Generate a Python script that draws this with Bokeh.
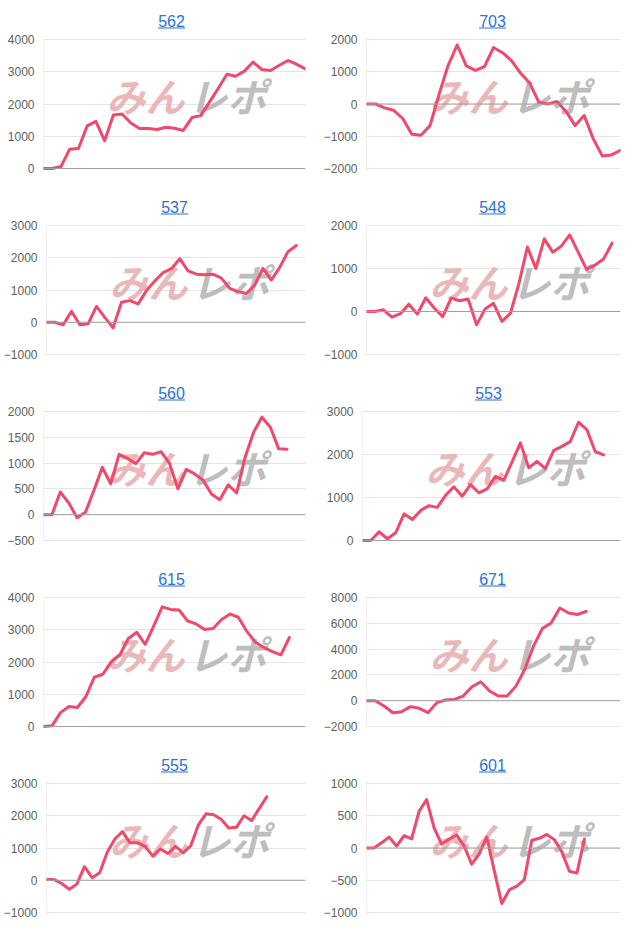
from bokeh.plotting import figure
from bokeh.layouts import column, row
from bokeh.models import Range1d, FixedTicker, Span, Label, BoxAnnotation
from bokeh.embed import file_html
from bokeh.resources import INLINE

titles = ["562", "703", "537", "548", "560", "553", "615", "671", "555", "601"]

v562 = [0, 0, 60, 600, 620, 1320, 1460, 860, 1660, 1690, 1410, 1240, 1240, 1210, 1280, 1250,
        1180, 1580, 1640, 2060, 2480, 2920, 2860, 3020, 3300, 3070, 3040, 3200, 3350, 3230, 3090]
v703 = [0, 0, -120, -195, -450, -940, -970, -670, 300, 1200, 1830, 1180, 1040, 1160, 1750,
        1590, 1340, 950, 650, 50, 0, 80, -230, -670, -360, -1080, -1610, -1580, -1440]
v537 = [0, 0, -80, 340, -80, -50, 490, 150, -170, 620, 670, 570, 980, 1280, 1540, 1660, 1970,
        1590, 1490, 1470, 1490, 1370, 1050, 950, 890, 1150, 1670, 1310, 1700, 2190, 2380]
v548 = [0, 0, 40, -130, -50, 170, -60, 320, 80, -120, 310, 250, 290, -310, 60, 190, -230, -40,
        650, 1500, 1000, 1690, 1380, 1520, 1780, 1380, 980, 1080, 1220, 1590]
v560 = [0, 0, 440, 230, -60, 50, 470, 920, 600, 1170, 1090, 990, 1200, 1170, 1220, 1000, 500,
        880, 790, 670, 400, 290, 580, 420, 1110, 1590, 1890, 1700, 1280, 1270]
v553 = [0, 0, 200, 40, 180, 620, 490, 700, 810, 770, 1050, 1250, 1030, 1300, 1110, 1200, 1490,
        1400, 1830, 2270, 1690, 1840, 1670, 2090, 2190, 2300, 2750, 2580, 2070, 1990]
v615 = [0, 20, 430, 620, 590, 930, 1530, 1620, 2010, 2220, 2730, 2920, 2550, 3120, 3710, 3630,
        3610, 3270, 3180, 3010, 3040, 3320, 3490, 3380, 2940, 2610, 2450, 2320, 2220, 2760]
v671 = [0, 0, -410, -930, -850, -460, -590, -930, -150, 50, 100, 360, 1080, 1470, 750, 360, 360,
        1130, 2420, 4230, 5590, 6030, 7190, 6800, 6680, 6930]
v555 = [20, 20, -100, -280, -120, 420, 80, 230, 870, 1280, 1510, 1160, 1160, 1050, 750, 970, 830,
        1050, 850, 1070, 1720, 2060, 2030, 1890, 1620, 1640, 2000, 1850, 2220, 2590]
v601 = [0, 0, 80, 170, 30, 190, 140, 570, 750, 310, 60, 140, 200, 30, -250, -90, 170, -350, -860,
        -650, -590, -490, 120, 150, 210, 130, -60, -360, -390, 140]

series = [v562, v703, v537, v548, v560, v553, v615, v671, v555, v601]

y_ticks = [
    [0, 1000, 2000, 3000, 4000],
    [-2000, -1000, 0, 1000, 2000],
    [-1000, 0, 1000, 2000, 3000],
    [-1000, 0, 1000, 2000],
    [-500, 0, 500, 1000, 1500, 2000],
    [0, 1000, 2000, 3000],
    [0, 1000, 2000, 3000, 4000],
    [-2000, 0, 2000, 4000, 6000, 8000],
    [-1000, 0, 1000, 2000, 3000],
    [-1000, -500, 0, 500, 1000],
]

x_axis_max = [30, 28, 31.1, 30, 31.2, 31.05, 30.9, 28.9, 34.1, 33.8]

LINE = "#f0496c"
BLUE = "#2a72d6"
FONT = "Liberation Sans"
GRID_H = 129      # pixel height of the gridded area
PAD_TOP = 31      # title area kept inside the frame
PAD_BOT = 2
FRAME_H = GRID_H + PAD_TOP + PAD_BOT


def make(i, col, last):
    h = 185 if last else 186
    w = 320 if col == 0 else 318
    bl = 43 if col == 0 else 42
    fw = 262 if col == 0 else 258
    br = w - bl - fw
    bt = 8
    bb = h - bt - FRAME_H
    ticks = y_ticks[i]
    lo, hi = ticks[0], ticks[-1]
    per_px = (hi - lo) / GRID_H
    p = figure(width=w, height=h, output_backend="svg", toolbar_location=None, tools="",
               title=None, x_axis_type=None,
               x_range=Range1d(0, x_axis_max[i]),
               y_range=Range1d(lo - PAD_BOT * per_px, hi + PAD_TOP * per_px),
               min_border_left=bl, min_border_right=br, min_border_top=bt,
               min_border_bottom=bb, outline_line_color=None)
    ax = p.yaxis[0]
    ax.ticker = FixedTicker(ticks=ticks, minor_ticks=[])
    ax.axis_line_color = None
    ax.major_tick_line_color = None
    ax.minor_tick_line_color = None
    ax.major_tick_out = 0
    ax.major_tick_in = 0
    ax.minor_tick_out = 0
    ax.major_label_standoff = 9
    ax.major_label_text_font = FONT
    ax.major_label_text_font_size = "12px"
    ax.major_label_text_color = "#5e5e5e"
    p.ygrid.grid_line_color = "#e4e4e4"
    p.ygrid.ticker = FixedTicker(ticks=ticks, minor_ticks=[])

    # vertical baseline at the left of the gridded area
    p.segment(x0=[0], y0=[lo], x1=[0], y1=[hi], line_color="#e4e4e4", line_width=1)
    p.add_layout(Span(location=0, dimension="width", line_color="#a0a0a0", line_width=1))

    # watermark
    wy = PAD_BOT + GRID_H - 55
    p.add_layout(Label(x=63, y=wy, x_units="screen", y_units="screen", text="みん",
                       text_font="Noto Sans CJK JP", text_font_style="bold italic",
                       text_font_size="39px", text_color="#e8aeae", text_alpha=0.9,
                       text_baseline="middle", text_align="left", level="underlay"))
    p.add_layout(Label(x=145, y=wy, x_units="screen", y_units="screen", text="レポ",
                       text_font="Noto Sans CJK JP", text_font_style="bold italic",
                       text_font_size="39px", text_color="#b5b5b5", text_alpha=0.9,
                       text_baseline="middle", text_align="left", level="underlay"))

    vals = series[i]
    p.line(list(range(len(vals))), vals, line_color=LINE, line_width=3,
           line_join="round", line_cap="round")

    cx = fw / 2 - 3
    ty = PAD_BOT + GRID_H + 12.5
    p.add_layout(Label(x=cx, y=ty + 6.5, x_units="screen", y_units="screen",
                       text=titles[i], text_font=FONT, text_font_size="16px",
                       text_color=BLUE, text_align="center", text_baseline="alphabetic"))
    p.add_layout(BoxAnnotation(left=cx - 13.5, right=cx + 13.5, bottom=ty - 1.5,
                               top=ty - 0.5, left_units="screen", right_units="screen",
                               bottom_units="screen", top_units="screen",
                               fill_color=BLUE, fill_alpha=1, line_alpha=0))
    return p


rows = []
for r in range(5):
    last = r == 4
    rows.append(row(make(2 * r, 0, last), make(2 * r + 1, 1, last)))

layout = column(*rows)
open("out.html", "w").write(file_html(layout, INLINE))
